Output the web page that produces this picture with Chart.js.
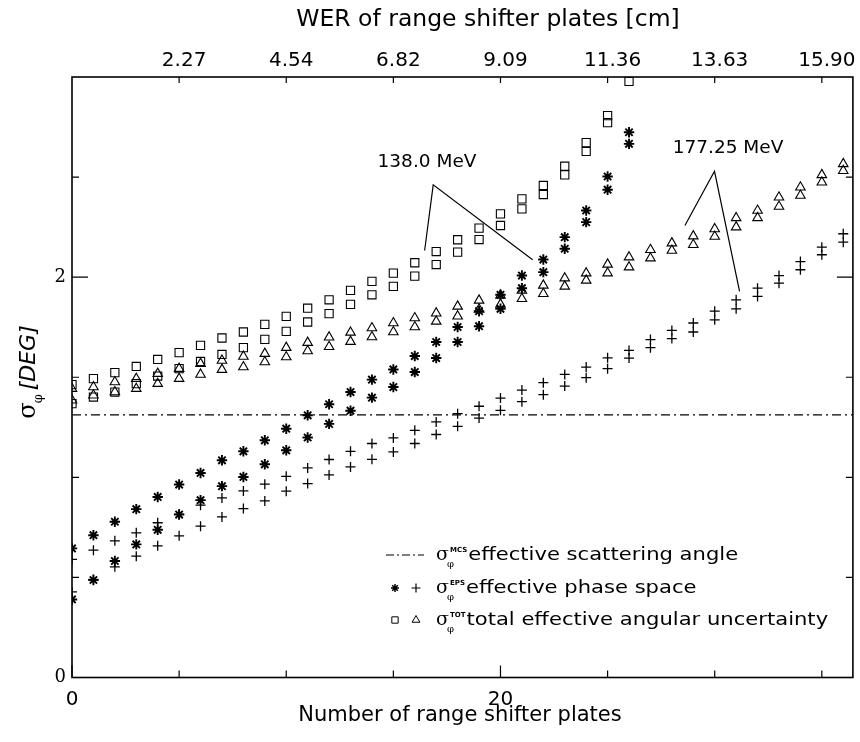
<!DOCTYPE html>
<html>
<head>
<meta charset="utf-8">
<script src="https://cdn.jsdelivr.net/npm/chart.js@4.4.1/dist/chart.umd.min.js"></script>
<style>
  html, body { margin: 0; padding: 0; background: #fff; }
  #wrap { width: 860px; height: 742px; }
</style>
</head>
<body>
<div id="wrap"><canvas id="chart" width="860" height="742"></canvas></div>
<script>
// number of range shifter plates
const plates138 = [0, 1, 2, 3, 4, 5, 6, 7, 8, 9, 10, 11, 12, 13, 14, 15, 16, 17, 18, 19, 20, 21, 22, 23, 24, 25, 26];
const plates177 = [0, 1, 2, 3, 4, 5, 6, 7, 8, 9, 10, 11, 12, 13, 14, 15, 16, 17, 18, 19, 20, 21, 22, 23, 24, 25, 26, 27, 28, 29, 30, 31, 32, 33, 34, 35, 36];

// 138.0 MeV : total (squares) and phase space (asterisks), two values per plate
const tot138Hi = [1.463, 1.493, 1.523, 1.554, 1.589, 1.623, 1.659, 1.696, 1.726, 1.764, 1.804, 1.845, 1.887, 1.934, 1.979, 2.020, 2.072, 2.128, 2.187, 2.245, 2.316, 2.391, 2.458, 2.554, 2.672, 2.807, 3.03];
const tot138Lo = [1.368, 1.401, 1.426, 1.468, 1.506, 1.543, 1.579, 1.614, 1.648, 1.689, 1.729, 1.776, 1.818, 1.864, 1.912, 1.954, 2.005, 2.063, 2.125, 2.188, 2.258, 2.341, 2.413, 2.511, 2.628, 2.772, 2.978];
const eps138Hi = [0.645, 0.711, 0.778, 0.841, 0.902, 0.964, 1.022, 1.085, 1.130, 1.185, 1.243, 1.310, 1.365, 1.426, 1.488, 1.539, 1.606, 1.676, 1.751, 1.830, 1.912, 2.008, 2.088, 2.200, 2.333, 2.503, 2.724];
const eps138Lo = [0.390, 0.487, 0.582, 0.665, 0.738, 0.814, 0.886, 0.956, 1.002, 1.065, 1.135, 1.199, 1.267, 1.333, 1.398, 1.451, 1.526, 1.596, 1.676, 1.755, 1.842, 1.945, 2.025, 2.142, 2.275, 2.437, 2.666];

// 177.25 MeV : total (triangles) and phase space (crosses)
const tot177Hi = [1.443, 1.451, 1.476, 1.493, 1.518, 1.543, 1.568, 1.584, 1.604, 1.618, 1.648, 1.673, 1.700, 1.724, 1.746, 1.771, 1.796, 1.820, 1.854, 1.884, 1.909, 1.934, 1.959, 1.995, 2.020, 2.064, 2.100, 2.137, 2.170, 2.205, 2.241, 2.296, 2.333, 2.399, 2.449, 2.511, 2.566];
const tot177Lo = [1.385, 1.410, 1.426, 1.443, 1.468, 1.493, 1.514, 1.538, 1.551, 1.576, 1.601, 1.631, 1.652, 1.678, 1.701, 1.726, 1.751, 1.779, 1.805, 1.839, 1.864, 1.892, 1.917, 1.954, 1.984, 2.020, 2.050, 2.095, 2.133, 2.162, 2.203, 2.250, 2.296, 2.353, 2.408, 2.474, 2.532];
const eps177Hi = [0.590, 0.636, 0.683, 0.723, 0.773, 0.815, 0.861, 0.897, 0.932, 0.966, 1.005, 1.047, 1.089, 1.130, 1.169, 1.197, 1.235, 1.277, 1.318, 1.355, 1.396, 1.436, 1.473, 1.514, 1.551, 1.597, 1.634, 1.688, 1.734, 1.771, 1.830, 1.887, 1.945, 2.008, 2.078, 2.150, 2.217];
const eps177Lo = [0.428, 0.490, 0.553, 0.606, 0.658, 0.708, 0.756, 0.802, 0.844, 0.882, 0.931, 0.969, 1.012, 1.052, 1.090, 1.127, 1.169, 1.214, 1.255, 1.296, 1.335, 1.378, 1.413, 1.456, 1.498, 1.543, 1.596, 1.648, 1.693, 1.726, 1.787, 1.842, 1.904, 1.970, 2.037, 2.112, 2.175];

// effective scattering angle (flat)
const mcsPlates = [0, 36.5];
const mcsValue = 1.312;

// annotation leader lines (plates, deg)
const ann138X = [16.46, 16.86, 21.50];
const ann138Y = [2.133, 2.461, 2.087];
const ann177X = [28.61, 29.99, 31.16];
const ann177Y = [2.258, 2.529, 1.929];

// axes
const plateTicks = [0, 5, 10, 15, 20, 25, 30, 35];
const plateLabelled = [0, 20];
const werTickPlates = [5, 10, 15, 20, 25, 30, 35];
const werLabels = ['2.27', '4.54', '6.82', '9.09', '11.36', '13.63', '15.90'];
const yTicks = [0, 0.5, 1, 1.5, 2, 2.5];
const yLabelled = [0, 2];

const SANS = '"DejaVu Sans", sans-serif';
const SERIF = '"DejaVu Serif", serif';
const PLATE_MAX = 36.45;

function pts(xs, ys) {
  return xs.map((x, i) => ({ x: x, y: ys[i] }));
}

function markers(label, xs, ys, style, radius, width) {
  return {
    label: label,
    data: pts(xs, ys),
    pointStyle: style,
    pointRadius: radius,
    pointBorderWidth: width,
    pointBorderColor: '#000',
    pointBackgroundColor: 'rgba(0,0,0,0)',
    showLine: false,
    clip: 0
  };
}

function leader(xs, ys, dash) {
  return {
    data: pts(xs, ys),
    showLine: true,
    borderColor: '#000',
    borderWidth: 1.2,
    borderDash: dash || [],
    pointRadius: 0,
    fill: false,
    clip: 0
  };
}

// text stretched sideways, the original lettering is a wide gothic face
function wideText(ctx, text, x, y, font, stretch) {
  ctx.save();
  ctx.font = font;
  ctx.translate(x, y);
  ctx.scale(stretch, 1);
  ctx.fillText(text, 0, 0);
  const w = ctx.measureText(text).width * stretch;
  ctx.restore();
  return w;
}

// sigma with phi subscript and a small superscript tag
function sigma(ctx, x, y, size, sup) {
  ctx.textBaseline = 'alphabetic';
  ctx.textAlign = 'left';
  ctx.font = size + 'px ' + SERIF;
  ctx.fillText('\u03c3', x, y);
  const w = ctx.measureText('\u03c3').width;
  ctx.font = Math.round(size * 0.5) + 'px ' + SERIF;
  ctx.fillText('\u03c6', x + w - 2, y + size * 0.38);
  ctx.font = 'bold 7px ' + SANS;
  ctx.fillText(sup, x + w + 1, y - size * 0.42);
  return x + w + 1 + ctx.measureText(sup).width;
}

const decor = {
  id: 'decor',
  afterDatasetsDraw(chart) {
    const ctx = chart.ctx;
    const a = chart.chartArea;
    const sx = chart.scales.x, sw = chart.scales.xw, sy = chart.scales.y;
    ctx.save();
    ctx.strokeStyle = '#000';
    ctx.fillStyle = '#000';

    // frame
    ctx.lineWidth = 1.6;
    ctx.strokeRect(a.left, a.top, a.right - a.left, a.bottom - a.top);

    // ticks pointing inwards
    ctx.lineWidth = 1.2;
    ctx.beginPath();
    yTicks.forEach(v => {
      const py = sy.getPixelForValue(v);
      const len = yLabelled.includes(v) ? 16 : 7;
      ctx.moveTo(a.left, py); ctx.lineTo(a.left + len, py);
      ctx.moveTo(a.right, py); ctx.lineTo(a.right - len, py);
    });
    plateTicks.forEach(v => {
      const px = sx.getPixelForValue(v);
      const len = plateLabelled.includes(v) ? 12 : 7;
      ctx.moveTo(px, a.bottom); ctx.lineTo(px, a.bottom - len);
    });
    werTickPlates.forEach(v => {
      const px = sw.getPixelForValue(v);
      ctx.moveTo(px, a.top); ctx.lineTo(px, a.top + 6);
    });
    ctx.stroke();

    // axis titles
    ctx.textBaseline = 'middle';
    ctx.textAlign = 'center';
    ctx.font = '23.5px ' + SANS;
    ctx.fillText('WER of range shifter plates [cm]', 488, 20);
    ctx.font = '21px ' + SANS;
    ctx.fillText('Number of range shifter plates', 460, 716);

    // y title, rotated
    ctx.save();
    ctx.translate(27, 372);
    ctx.rotate(-Math.PI / 2);
    ctx.textBaseline = 'alphabetic';
    ctx.textAlign = 'left';
    ctx.font = '24px ' + SERIF;
    const sw1 = ctx.measureText('\u03c3').width;
    ctx.font = 'italic 22px ' + SANS;
    const sw2 = ctx.measureText('[DEG]').width;
    const x0 = -(sw1 + 12 + sw2) / 2;
    ctx.font = '24px ' + SERIF;
    ctx.fillText('\u03c3', x0, 8);
    ctx.font = '13px ' + SERIF;
    ctx.fillText('\u03c6', x0 + sw1 - 1, 15);
    ctx.font = 'italic 22px ' + SANS;
    ctx.fillText('[DEG]', x0 + sw1 + 12, 8);
    ctx.restore();

    // energy labels
    ctx.textAlign = 'center';
    ctx.textBaseline = 'middle';
    ctx.font = '18.5px ' + SANS;
    ctx.fillText('138.0 MeV', 427, 162);
    ctx.fillText('177.25 MeV', 728, 148);

    // legend
    const rows = [555, 588, 620];
    ctx.lineWidth = 1;
    ctx.setLineDash([8, 3, 2, 3]);
    ctx.beginPath();
    ctx.moveTo(386, rows[0]); ctx.lineTo(424, rows[0]);
    ctx.stroke();
    ctx.setLineDash([]);
    const H = Chart.helpers;
    ctx.fillStyle = 'rgba(0,0,0,0)';
    ctx.lineWidth = 1.5;
    H.drawPoint(ctx, { pointStyle: 'star', radius: 4, borderWidth: 1.5 }, 395, rows[1]);
    ctx.lineWidth = 1.2;
    H.drawPoint(ctx, { pointStyle: 'cross', radius: 4.5, borderWidth: 1.2 }, 416, rows[1]);
    ctx.lineWidth = 1;
    H.drawPoint(ctx, { pointStyle: 'rect', radius: 4.5, borderWidth: 1 }, 395, rows[2]);
    H.drawPoint(ctx, { pointStyle: 'triangle', radius: 4.5, borderWidth: 1 }, 416, rows[2]);
    ctx.fillStyle = '#000';
    const texts = [
      ['MCS', 'effective scattering angle'],
      ['EPS', 'effective phase space'],
      ['TOT', 'total effective angular uncertainty']
    ];
    texts.forEach((t, i) => {
      const x = sigma(ctx, 436, rows[i] + 5, 19, t[0]);
      ctx.textAlign = 'left';
      ctx.textBaseline = 'middle';
      wideText(ctx, t[1], Math.max(x + 1, 463), rows[i], '18.5px ' + SANS, 1.14);
    });

    ctx.restore();
  }
};

new Chart(document.getElementById('chart'), {
  type: 'scatter',
  data: {
    datasets: [
      leader(mcsPlates, [mcsValue, mcsValue], [9, 4, 2, 4]),
      leader(ann138X, ann138Y),
      leader(ann177X, ann177Y),
      markers('138 tot', plates138, tot138Hi, 'rect', 5.8, 1.1),
      markers('138 tot', plates138, tot138Lo, 'rect', 5.8, 1.1),
      markers('177 tot', plates177, tot177Hi, 'triangle', 5.5, 1.1),
      markers('177 tot', plates177, tot177Lo, 'triangle', 5.5, 1.1),
      markers('138 eps', plates138, eps138Hi, 'star', 5.2, 1.9),
      markers('138 eps', plates138, eps138Lo, 'star', 5.2, 1.9),
      markers('177 eps', plates177, eps177Hi, 'cross', 5, 1.3),
      markers('177 eps', plates177, eps177Lo, 'cross', 5, 1.3)
    ]
  },
  options: {
    responsive: false,
    animation: false,
    devicePixelRatio: 1,
    layout: { padding: { left: 0, right: 2, top: 0, bottom: 0 } },
    plugins: { legend: { display: false }, tooltip: { enabled: false } },
    scales: {
      x: {
        type: 'linear',
        position: 'bottom',
        min: 0,
        max: PLATE_MAX,
        grid: { display: false, drawTicks: false },
        border: { display: false },
        afterBuildTicks: s => { s.ticks = plateTicks.map(v => ({ value: v })); },
        afterFit: s => { s.height = 64.5; },
        ticks: {
          autoSkip: false,
          maxRotation: 0,
          padding: 10,
          color: '#000',
          font: { family: SANS, size: 20 },
          callback: v => plateLabelled.includes(v) ? String(v) : ''
        }
      },
      xw: {
        type: 'linear',
        position: 'top',
        min: 0,
        max: PLATE_MAX,
        grid: { display: false, drawTicks: false },
        border: { display: false },
        afterBuildTicks: s => { s.ticks = werTickPlates.map(v => ({ value: v })); },
        afterFit: s => { s.height = 77; },
        ticks: {
          autoSkip: false,
          maxRotation: 0,
          padding: 4,
          labelOffset: 5,
          color: '#000',
          font: { family: SANS, size: 20 },
          callback: v => werLabels[werTickPlates.indexOf(v)]
        }
      },
      y: {
        type: 'linear',
        min: 0,
        max: 3,
        grid: { display: false, drawTicks: false },
        border: { display: false },
        afterBuildTicks: s => { s.ticks = yTicks.map(v => ({ value: v })); },
        afterFit: s => { s.width = 72; },
        ticks: {
          autoSkip: false,
          padding: 6,
          color: '#000',
          font: { family: SERIF, size: 18 },
          callback: v => yLabelled.includes(v) ? String(v) : ''
        }
      }
    }
  },
  plugins: [decor]
});
</script>
</body>
</html>
